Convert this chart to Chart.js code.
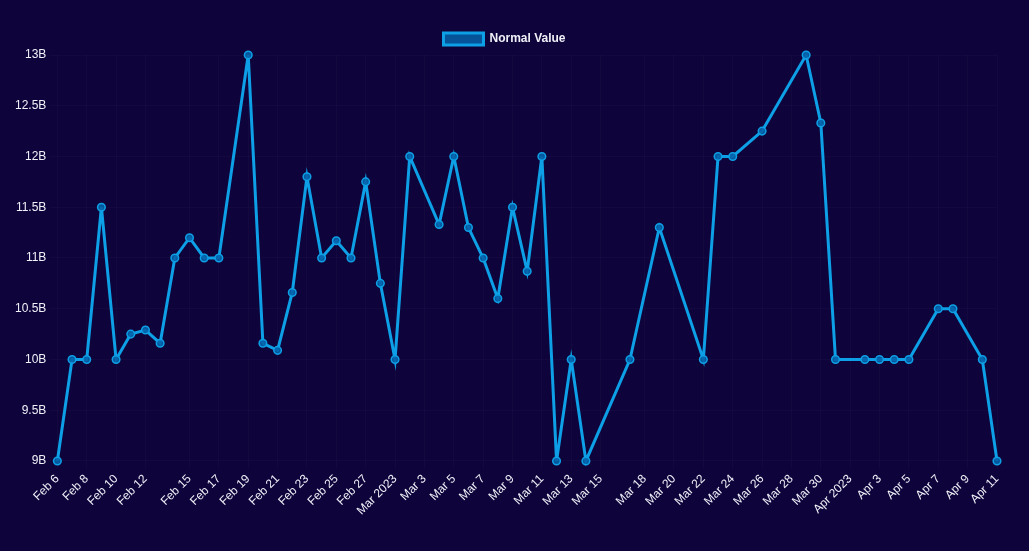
<!DOCTYPE html>
<html>
<head>
<meta charset="utf-8">
<script src="https://cdn.jsdelivr.net/npm/chart.js@4.4.1/dist/chart.umd.min.js"></script>
<style>
  html, body { margin: 0; padding: 0; background: #0e043b; }
  #wrap { width: 1029px; height: 551px; }
</style>
</head>
<body>
<div id="wrap"><canvas id="chart"></canvas></div>
<script>
// dates of the readings (2023) and their values in billions
const dates = [
  '2023-02-06', '2023-02-07', '2023-02-08', '2023-02-09', '2023-02-10', '2023-02-11',
  '2023-02-12', '2023-02-13', '2023-02-14', '2023-02-15', '2023-02-16', '2023-02-17',
  '2023-02-19', '2023-02-20', '2023-02-21', '2023-02-22', '2023-02-23', '2023-02-24',
  '2023-02-25', '2023-02-26', '2023-02-27', '2023-02-28', '2023-03-01', '2023-03-02',
  '2023-03-04', '2023-03-05', '2023-03-06', '2023-03-07', '2023-03-08', '2023-03-09',
  '2023-03-10', '2023-03-11', '2023-03-12', '2023-03-13', '2023-03-14', '2023-03-17',
  '2023-03-19', '2023-03-22', '2023-03-23', '2023-03-24', '2023-03-26', '2023-03-29',
  '2023-03-30', '2023-03-31', '2023-04-02', '2023-04-03', '2023-04-04', '2023-04-05',
  '2023-04-07', '2023-04-08', '2023-04-10', '2023-04-11'
];
const normalValues = [
  9, 10, 10, 11.5, 10, 10.25,
  10.29, 10.16, 11, 11.2, 11, 11,
  13, 10.16, 10.09, 10.66, 11.8, 11,
  11.17, 11, 11.75, 10.75, 10, 12,
  11.33, 12, 11.3, 11, 10.6, 11.5,
  10.87, 12, 9, 10, 9, 10,
  11.3, 10, 12, 12, 12.25, 13,
  12.33, 10, 10, 10, 10, 10,
  10.5, 10.5, 10, 9
];
const tickDates = [
  '2023-02-06', '2023-02-08', '2023-02-10', '2023-02-12', '2023-02-15', '2023-02-17',
  '2023-02-19', '2023-02-21', '2023-02-23', '2023-02-25', '2023-02-27', '2023-03-01',
  '2023-03-03', '2023-03-05', '2023-03-07', '2023-03-09', '2023-03-11', '2023-03-13',
  '2023-03-15', '2023-03-18', '2023-03-20', '2023-03-22', '2023-03-24', '2023-03-26',
  '2023-03-28', '2023-03-30', '2023-04-01', '2023-04-03', '2023-04-05', '2023-04-07',
  '2023-04-09', '2023-04-11'
];
const tickLabels = [
  'Feb 6', 'Feb 8', 'Feb 10', 'Feb 12', 'Feb 15', 'Feb 17',
  'Feb 19', 'Feb 21', 'Feb 23', 'Feb 25', 'Feb 27', 'Mar 2023',
  'Mar 3', 'Mar 5', 'Mar 7', 'Mar 9', 'Mar 11', 'Mar 13',
  'Mar 15', 'Mar 18', 'Mar 20', 'Mar 22', 'Mar 24', 'Mar 26',
  'Mar 28', 'Mar 30', 'Apr 2023', 'Apr 3', 'Apr 5', 'Apr 7',
  'Apr 9', 'Apr 11'
];
const yTicks = [9, 9.5, 10, 10.5, 11, 11.5, 12, 12.5, 13];

const DAY = 86400000;
const start = Date.parse(dates[0]);
const toDay = d => (Date.parse(d) - start) / DAY;

const points = dates.map((d, i) => ({ x: toDay(d), y: normalValues[i] }));
const tickDays = tickDates.map(toDay);

Chart.defaults.font.family = '"Liberation Sans", Arial, sans-serif';
Chart.defaults.color = '#f0f0f8';

new Chart(document.getElementById('chart'), {
  type: 'line',
  data: {
    datasets: [{
      label: 'Normal Value',
      data: points,
      borderColor: '#0ea0e6',
      backgroundColor: 'rgba(4, 98, 170, 0.85)',
      borderWidth: 3,
      pointRadius: 3.8,
      pointBorderWidth: 1.5,
      pointBackgroundColor: 'rgba(4, 98, 170, 0.9)',
      tension: 0,
      clip: false
    }]
  },
  options: {
    responsive: true,
    maintainAspectRatio: false,
    animation: false,
    layout: { padding: { left: 12, right: 32, top: 23, bottom: 30 } },
    plugins: {
      legend: {
        position: 'top',
        labels: {
          font: { size: 12, weight: 'bold' },
          boxWidth: 40,
          boxHeight: 12
        }
      },
      tooltip: { enabled: false }
    },
    scales: {
      x: {
        type: 'linear',
        min: 0,
        max: toDay(dates[dates.length - 1]),
        afterBuildTicks: axis => {
          axis.ticks = tickDays.map(v => ({ value: v }));
        },
        ticks: {
          autoSkip: false,
          maxRotation: 45,
          minRotation: 45,
          font: { size: 12 },
          callback: value => {
            const i = tickDays.indexOf(value);
            return i >= 0 ? tickLabels[i] : '';
          }
        },
        grid: { color: 'rgba(255,255,255,0.025)' },
        border: { display: false }
      },
      y: {
        min: 9,
        max: 13,
        afterBuildTicks: axis => {
          axis.ticks = yTicks.map(v => ({ value: v }));
        },
        ticks: {
          font: { size: 12 },
          callback: v => v + 'B'
        },
        grid: { color: 'rgba(255,255,255,0.025)' },
        border: { display: false }
      }
    }
  }
});
</script>
</body>
</html>
